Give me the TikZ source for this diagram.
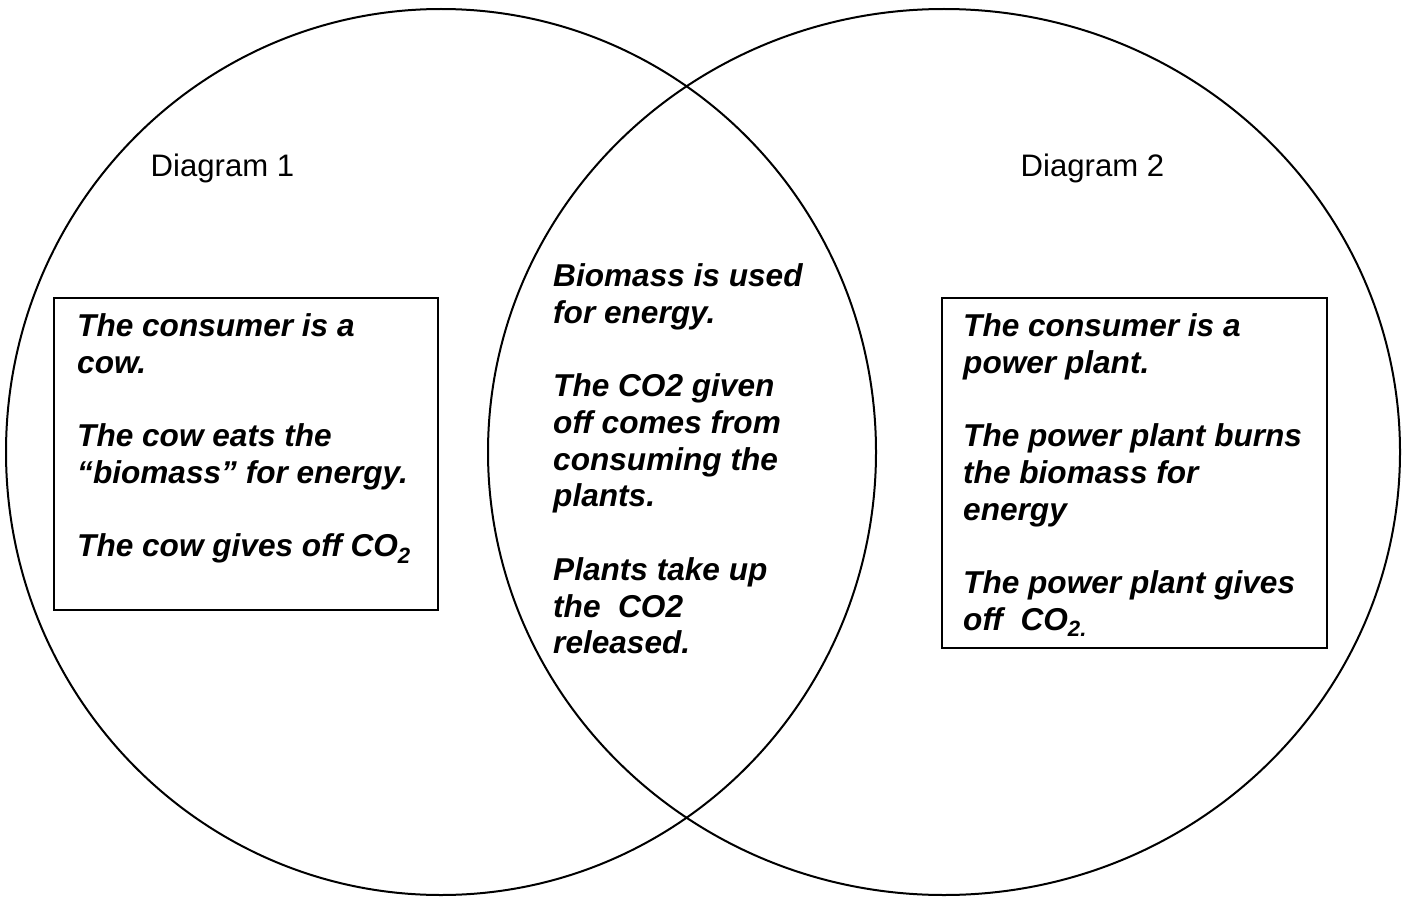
\documentclass[tikz,border=0pt]{standalone}
\usepackage{fontspec}
\setmainfont{Liberation Sans}
\usetikzlibrary{shapes.geometric}
\newcommand{\bigtxt}{\fontsize{31.6}{36.7}\selectfont}
\newcommand{\lbltxt}{\fontsize{31.1}{36.7}\selectfont}
\newcommand{\lines}[1]{\vtop{\baselineskip=36.7pt\lineskiplimit=-100pt #1}}
\begin{document}
\begin{tikzpicture}[x=1pt,y=-1pt,
  venn/.style={draw, line width=2pt, ellipse, inner sep=0pt},
  infobox/.style={draw, line width=2pt, rectangle, inner sep=0pt, anchor=north west},
  bodytxt/.style={anchor=base west, inner sep=0pt, font=\bigtxt\bfseries\itshape},
  lbl/.style={anchor=base west, inner sep=0pt, font=\lbltxt}]
\useasboundingbox (0,0) rectangle (1404,896);
\node[venn, minimum width=870pt, minimum height=886pt] (c1) at (441,452) {};
\node[venn, minimum width=912pt, minimum height=886pt] (c2) at (944,452) {};
\node[infobox, minimum width=384pt, minimum height=312pt] (b1) at (53,297) {};
\node[infobox, minimum width=385pt, minimum height=350pt] (b2) at (941,297) {};
\node[lbl] (d1) at (150.5,176.7) {Diagram 1};
\node[lbl] (d2) at (1020.5,176.7) {Diagram 2};
\node[bodytxt] (t1) at (77,336.7) {\lines{\hbox{The consumer is a}\hbox{cow.}\hbox{}\hbox{The cow eats the}\hbox{“biomass” for energy.}\hbox{}\hbox{The cow gives off CO\textsubscript{2}}}};
\node[bodytxt] (t2) at (553,286.7) {\lines{\hbox{Biomass is used}\hbox{for energy.}\hbox{}\hbox{The CO2 given}\hbox{off comes from}\hbox{consuming the}\hbox{plants.}\hbox{}\hbox{Plants take up}\hbox{the \ CO2}\hbox{released.}}};
\node[bodytxt] (t3) at (963,336.5) {\lines{\hbox{The consumer is a}\hbox{power plant.}\hbox{}\hbox{The power plant burns}\hbox{the biomass for}\hbox{energy}\hbox{}\hbox{The power plant gives}\hbox{off \ CO\textsubscript{2.}}}};
\end{tikzpicture}
\end{document}
